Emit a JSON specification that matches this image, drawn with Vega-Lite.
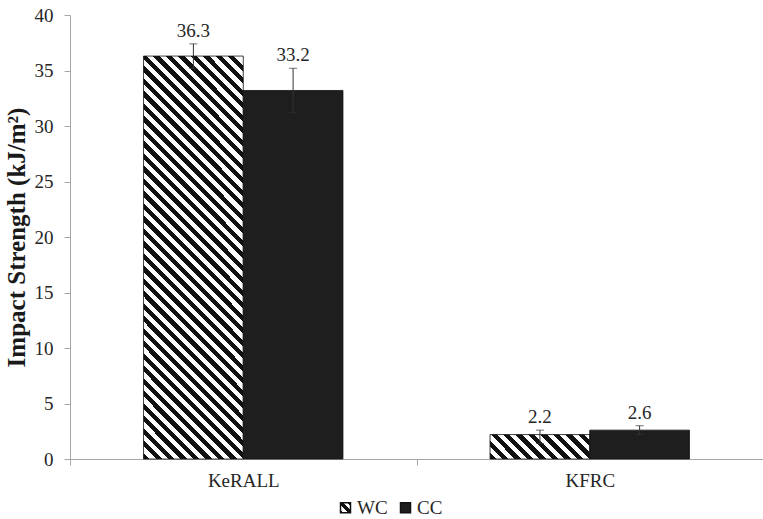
{
  "$schema": "https://vega.github.io/schema/vega-lite/v6.json",
  "width": 693,
  "height": 444,
  "autosize": {"type": "none"},
  "padding": {"left": 70, "top": 15, "right": 0, "bottom": 60},
  "background": "#ffffff",
  "data": {
    "values": [
      {"group": "KeRALL", "series": "WC", "value": 36.3, "lo": 35.2, "hi": 37.4},
      {"group": "KeRALL", "series": "CC", "value": 33.2, "lo": 31.2, "hi": 35.2},
      {"group": "KFRC", "series": "WC", "value": 2.2, "lo": 1.4, "hi": 2.6},
      {"group": "KFRC", "series": "CC", "value": 2.6, "lo": 2.2, "hi": 3.0}
    ]
  },
  "encoding": {
    "x": {
      "field": "group",
      "type": "nominal",
      "sort": ["KeRALL", "KFRC"],
      "scale": {"paddingInner": 0, "paddingOuter": 0},
      "axis": {
        "title": null,
        "labelAngle": 0,
        "tickBand": "extent",
        "domainColor": "#a6a6a6",
        "tickColor": "#a6a6a6",
        "tickSize": 6,
        "labelPadding": 6,
        "labelFont": "Liberation Serif",
        "labelFontSize": 19,
        "labelColor": "#262626"
      }
    },
    "xOffset": {
      "field": "series",
      "type": "nominal",
      "sort": ["WC", "CC"],
      "scale": {"paddingInner": 0, "paddingOuter": 0.7375}
    }
  },
  "layer": [
    {
      "mark": {"type": "bar", "stroke": "#111111", "strokeWidth": 0.8},
      "encoding": {
        "y": {
          "field": "value",
          "type": "quantitative",
          "scale": {"domain": [0, 40]},
          "axis": {
            "title": "Impact Strength (kJ/m²)",
            "titleFont": "Liberation Serif",
            "titleFontWeight": "bold",
            "titleFontSize": 25,
            "titleColor": "#1a1a1a",
            "titlePadding": 5,
            "values": [0, 5, 10, 15, 20, 25, 30, 35, 40],
            "grid": false,
            "domainColor": "#a6a6a6",
            "tickColor": "#a6a6a6",
            "tickSize": 6,
            "labelPadding": 11,
            "labelFont": "Liberation Serif",
            "labelFontSize": 19,
            "labelColor": "#262626"
          }
        },
        "fill": {
          "field": "series",
          "type": "nominal",
          "scale": {
            "domain": ["WC", "CC"],
            "range": [
              {"expr": "{gradient: 'linear', x1: 0, y1: 1, x2: 1, y2: 0, stops: [{offset: 0, color: '#111111'}, {offset: 0.15, color: '#111111'}, {offset: 0.15, color: '#ffffff'}, {offset: 0.38, color: '#ffffff'}, {offset: 0.38, color: '#111111'}, {offset: 0.62, color: '#111111'}, {offset: 0.62, color: '#ffffff'}, {offset: 0.85, color: '#ffffff'}, {offset: 0.85, color: '#111111'}, {offset: 1, color: '#111111'}]}"},
              "#1e1e1e"
            ]
          },
          "legend": {
            "title": null,
            "orient": "none",
            "legendX": 266,
            "legendY": 483,
            "direction": "horizontal",
            "symbolType": "square",
            "symbolSize": 100,
            "labelFont": "Liberation Serif",
            "labelFontSize": 19,
            "labelColor": "#262626",
            "labelOffset": 2,
            "columnPadding": 8,
            "encode": {
              "symbols": {
                "stroke": {"value": "#111111"},
                "strokeWidth": {"value": 1}
              }
            }
          },
          "condition": [
            {
              "test": "datum.series === 'WC' && datum.group === 'KeRALL'",
              "value": {
                "gradient": "linear", "x1": 0, "y1": 1, "x2": 0.29, "y2": -0.1687,
                "stops": [
                  {"offset": 0, "color": "#111111"}, {"offset": 0.0125, "color": "#111111"},
                  {"offset": 0.0125, "color": "#ffffff"}, {"offset": 0.025, "color": "#ffffff"},
                  {"offset": 0.025, "color": "#111111"}, {"offset": 0.0375, "color": "#111111"},
                  {"offset": 0.0375, "color": "#ffffff"}, {"offset": 0.05, "color": "#ffffff"},
                  {"offset": 0.05, "color": "#111111"}, {"offset": 0.0625, "color": "#111111"},
                  {"offset": 0.0625, "color": "#ffffff"}, {"offset": 0.075, "color": "#ffffff"},
                  {"offset": 0.075, "color": "#111111"}, {"offset": 0.0875, "color": "#111111"},
                  {"offset": 0.0875, "color": "#ffffff"}, {"offset": 0.1, "color": "#ffffff"},
                  {"offset": 0.1, "color": "#111111"}, {"offset": 0.1125, "color": "#111111"},
                  {"offset": 0.1125, "color": "#ffffff"}, {"offset": 0.125, "color": "#ffffff"},
                  {"offset": 0.125, "color": "#111111"}, {"offset": 0.1375, "color": "#111111"},
                  {"offset": 0.1375, "color": "#ffffff"}, {"offset": 0.15, "color": "#ffffff"},
                  {"offset": 0.15, "color": "#111111"}, {"offset": 0.1625, "color": "#111111"},
                  {"offset": 0.1625, "color": "#ffffff"}, {"offset": 0.175, "color": "#ffffff"},
                  {"offset": 0.175, "color": "#111111"}, {"offset": 0.1875, "color": "#111111"},
                  {"offset": 0.1875, "color": "#ffffff"}, {"offset": 0.2, "color": "#ffffff"},
                  {"offset": 0.2, "color": "#111111"}, {"offset": 0.2125, "color": "#111111"},
                  {"offset": 0.2125, "color": "#ffffff"}, {"offset": 0.225, "color": "#ffffff"},
                  {"offset": 0.225, "color": "#111111"}, {"offset": 0.2375, "color": "#111111"},
                  {"offset": 0.2375, "color": "#ffffff"}, {"offset": 0.25, "color": "#ffffff"},
                  {"offset": 0.25, "color": "#111111"}, {"offset": 0.2625, "color": "#111111"},
                  {"offset": 0.2625, "color": "#ffffff"}, {"offset": 0.275, "color": "#ffffff"},
                  {"offset": 0.275, "color": "#111111"}, {"offset": 0.2875, "color": "#111111"},
                  {"offset": 0.2875, "color": "#ffffff"}, {"offset": 0.3, "color": "#ffffff"},
                  {"offset": 0.3, "color": "#111111"}, {"offset": 0.3125, "color": "#111111"},
                  {"offset": 0.3125, "color": "#ffffff"}, {"offset": 0.325, "color": "#ffffff"},
                  {"offset": 0.325, "color": "#111111"}, {"offset": 0.3375, "color": "#111111"},
                  {"offset": 0.3375, "color": "#ffffff"}, {"offset": 0.35, "color": "#ffffff"},
                  {"offset": 0.35, "color": "#111111"}, {"offset": 0.3625, "color": "#111111"},
                  {"offset": 0.3625, "color": "#ffffff"}, {"offset": 0.375, "color": "#ffffff"},
                  {"offset": 0.375, "color": "#111111"}, {"offset": 0.3875, "color": "#111111"},
                  {"offset": 0.3875, "color": "#ffffff"}, {"offset": 0.4, "color": "#ffffff"},
                  {"offset": 0.4, "color": "#111111"}, {"offset": 0.4125, "color": "#111111"},
                  {"offset": 0.4125, "color": "#ffffff"}, {"offset": 0.425, "color": "#ffffff"},
                  {"offset": 0.425, "color": "#111111"}, {"offset": 0.4375, "color": "#111111"},
                  {"offset": 0.4375, "color": "#ffffff"}, {"offset": 0.45, "color": "#ffffff"},
                  {"offset": 0.45, "color": "#111111"}, {"offset": 0.4625, "color": "#111111"},
                  {"offset": 0.4625, "color": "#ffffff"}, {"offset": 0.475, "color": "#ffffff"},
                  {"offset": 0.475, "color": "#111111"}, {"offset": 0.4875, "color": "#111111"},
                  {"offset": 0.4875, "color": "#ffffff"}, {"offset": 0.5, "color": "#ffffff"},
                  {"offset": 0.5, "color": "#111111"}, {"offset": 0.5125, "color": "#111111"},
                  {"offset": 0.5125, "color": "#ffffff"}, {"offset": 0.525, "color": "#ffffff"},
                  {"offset": 0.525, "color": "#111111"}, {"offset": 0.5375, "color": "#111111"},
                  {"offset": 0.5375, "color": "#ffffff"}, {"offset": 0.55, "color": "#ffffff"},
                  {"offset": 0.55, "color": "#111111"}, {"offset": 0.5625, "color": "#111111"},
                  {"offset": 0.5625, "color": "#ffffff"}, {"offset": 0.575, "color": "#ffffff"},
                  {"offset": 0.575, "color": "#111111"}, {"offset": 0.5875, "color": "#111111"},
                  {"offset": 0.5875, "color": "#ffffff"}, {"offset": 0.6, "color": "#ffffff"},
                  {"offset": 0.6, "color": "#111111"}, {"offset": 0.6125, "color": "#111111"},
                  {"offset": 0.6125, "color": "#ffffff"}, {"offset": 0.625, "color": "#ffffff"},
                  {"offset": 0.625, "color": "#111111"}, {"offset": 0.6375, "color": "#111111"},
                  {"offset": 0.6375, "color": "#ffffff"}, {"offset": 0.65, "color": "#ffffff"},
                  {"offset": 0.65, "color": "#111111"}, {"offset": 0.6625, "color": "#111111"},
                  {"offset": 0.6625, "color": "#ffffff"}, {"offset": 0.675, "color": "#ffffff"},
                  {"offset": 0.675, "color": "#111111"}, {"offset": 0.6875, "color": "#111111"},
                  {"offset": 0.6875, "color": "#ffffff"}, {"offset": 0.7, "color": "#ffffff"},
                  {"offset": 0.7, "color": "#111111"}, {"offset": 0.7125, "color": "#111111"},
                  {"offset": 0.7125, "color": "#ffffff"}, {"offset": 0.725, "color": "#ffffff"},
                  {"offset": 0.725, "color": "#111111"}, {"offset": 0.7375, "color": "#111111"},
                  {"offset": 0.7375, "color": "#ffffff"}, {"offset": 0.75, "color": "#ffffff"},
                  {"offset": 0.75, "color": "#111111"}, {"offset": 0.7625, "color": "#111111"},
                  {"offset": 0.7625, "color": "#ffffff"}, {"offset": 0.775, "color": "#ffffff"},
                  {"offset": 0.775, "color": "#111111"}, {"offset": 0.7875, "color": "#111111"},
                  {"offset": 0.7875, "color": "#ffffff"}, {"offset": 0.8, "color": "#ffffff"},
                  {"offset": 0.8, "color": "#111111"}, {"offset": 0.8125, "color": "#111111"},
                  {"offset": 0.8125, "color": "#ffffff"}, {"offset": 0.825, "color": "#ffffff"},
                  {"offset": 0.825, "color": "#111111"}, {"offset": 0.8375, "color": "#111111"},
                  {"offset": 0.8375, "color": "#ffffff"}, {"offset": 0.85, "color": "#ffffff"},
                  {"offset": 0.85, "color": "#111111"}, {"offset": 0.8625, "color": "#111111"},
                  {"offset": 0.8625, "color": "#ffffff"}, {"offset": 0.875, "color": "#ffffff"},
                  {"offset": 0.875, "color": "#111111"}, {"offset": 0.8875, "color": "#111111"},
                  {"offset": 0.8875, "color": "#ffffff"}, {"offset": 0.9, "color": "#ffffff"},
                  {"offset": 0.9, "color": "#111111"}, {"offset": 0.9125, "color": "#111111"},
                  {"offset": 0.9125, "color": "#ffffff"}, {"offset": 0.925, "color": "#ffffff"},
                  {"offset": 0.925, "color": "#111111"}, {"offset": 0.9375, "color": "#111111"},
                  {"offset": 0.9375, "color": "#ffffff"}, {"offset": 0.95, "color": "#ffffff"},
                  {"offset": 0.95, "color": "#111111"}, {"offset": 0.9625, "color": "#111111"},
                  {"offset": 0.9625, "color": "#ffffff"}, {"offset": 0.975, "color": "#ffffff"},
                  {"offset": 0.975, "color": "#111111"}, {"offset": 0.9875, "color": "#111111"},
                  {"offset": 0.9875, "color": "#ffffff"}, {"offset": 1, "color": "#ffffff"}
                ]
              }
            },
            {
              "test": "datum.series === 'WC' && datum.group === 'KFRC'",
              "value": {
                "gradient": "linear", "x1": 0, "y1": 1, "x2": 1.1797, "y2": 0.7121,
                "stops": [
                  {"offset": 0, "color": "#111111"}, {"offset": 0.05, "color": "#111111"},
                  {"offset": 0.05, "color": "#ffffff"}, {"offset": 0.1, "color": "#ffffff"},
                  {"offset": 0.1, "color": "#111111"}, {"offset": 0.15, "color": "#111111"},
                  {"offset": 0.15, "color": "#ffffff"}, {"offset": 0.2, "color": "#ffffff"},
                  {"offset": 0.2, "color": "#111111"}, {"offset": 0.25, "color": "#111111"},
                  {"offset": 0.25, "color": "#ffffff"}, {"offset": 0.3, "color": "#ffffff"},
                  {"offset": 0.3, "color": "#111111"}, {"offset": 0.35, "color": "#111111"},
                  {"offset": 0.35, "color": "#ffffff"}, {"offset": 0.4, "color": "#ffffff"},
                  {"offset": 0.4, "color": "#111111"}, {"offset": 0.45, "color": "#111111"},
                  {"offset": 0.45, "color": "#ffffff"}, {"offset": 0.5, "color": "#ffffff"},
                  {"offset": 0.5, "color": "#111111"}, {"offset": 0.55, "color": "#111111"},
                  {"offset": 0.55, "color": "#ffffff"}, {"offset": 0.6, "color": "#ffffff"},
                  {"offset": 0.6, "color": "#111111"}, {"offset": 0.65, "color": "#111111"},
                  {"offset": 0.65, "color": "#ffffff"}, {"offset": 0.7, "color": "#ffffff"},
                  {"offset": 0.7, "color": "#111111"}, {"offset": 0.75, "color": "#111111"},
                  {"offset": 0.75, "color": "#ffffff"}, {"offset": 0.8, "color": "#ffffff"},
                  {"offset": 0.8, "color": "#111111"}, {"offset": 0.85, "color": "#111111"},
                  {"offset": 0.85, "color": "#ffffff"}, {"offset": 0.9, "color": "#ffffff"},
                  {"offset": 0.9, "color": "#111111"}, {"offset": 0.95, "color": "#111111"},
                  {"offset": 0.95, "color": "#ffffff"}, {"offset": 1, "color": "#ffffff"}
                ]
              }
            }
          ]
        }
      }
    },
    {
      "mark": {"type": "rule", "color": "#333333", "strokeWidth": 1},
      "encoding": {
        "y": {"field": "lo", "type": "quantitative"},
        "y2": {"field": "hi"}
      }
    },
    {
      "mark": {"type": "tick", "orient": "horizontal", "color": "#333333", "size": 8, "thickness": 1},
      "encoding": {
        "y": {"field": "hi", "type": "quantitative"}
      }
    },
    {
      "mark": {"type": "tick", "orient": "horizontal", "color": "#333333", "size": 8, "thickness": 1},
      "encoding": {
        "y": {"field": "lo", "type": "quantitative"}
      }
    },
    {
      "mark": {
        "type": "text",
        "baseline": "bottom",
        "dy": -3,
        "font": "Liberation Serif",
        "fontSize": 19,
        "color": "#262626"
      },
      "encoding": {
        "y": {"field": "hi", "type": "quantitative"},
        "text": {"field": "value", "type": "quantitative", "format": ".1f"}
      }
    }
  ],
  "config": {
    "view": {"stroke": null}
  }
}
